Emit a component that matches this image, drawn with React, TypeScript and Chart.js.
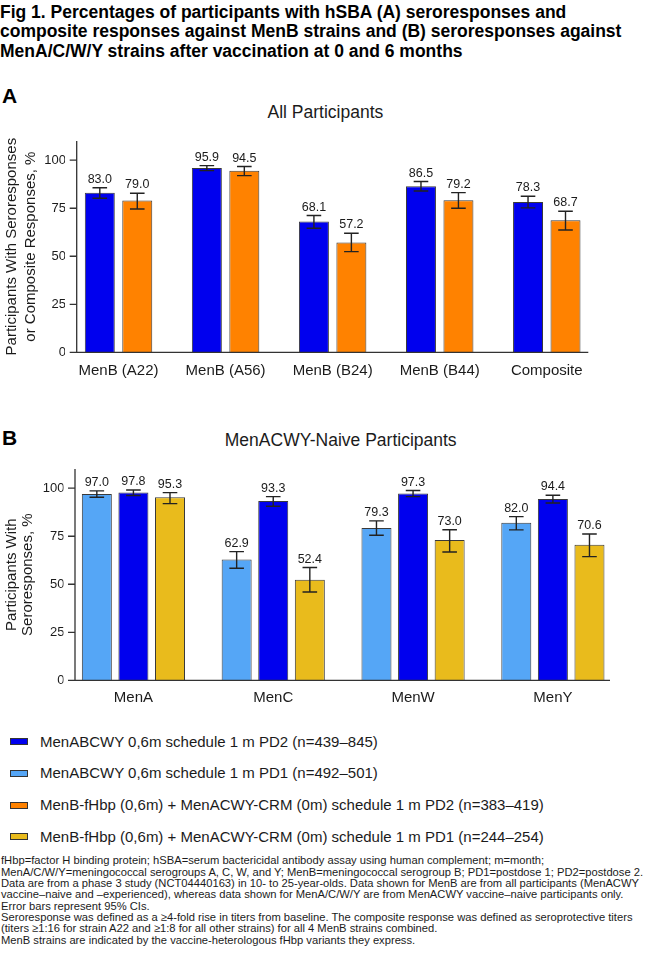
import React, { useEffect, useRef } from "react";
import { Chart, registerables } from "chart.js";

Chart.register(...registerables);

const FONT = '"Liberation Sans", Arial, Helvetica, sans-serif';
const INK = "#1b1b1b";

// ---- Panel A: MenB strains (all participants) ----
const menBCategories = ["MenB (A22)", "MenB (A56)", "MenB (B24)", "MenB (B44)", "Composite"];
const menBAbcwyPd2 = [83.0, 95.9, 68.1, 86.5, 78.3];
const menBAbcwyPd2Low = [80.2, 94.6, 64.6, 84.0, 75.2];
const menBAbcwyPd2High = [85.7, 97.2, 71.2, 88.9, 81.2];
const menBFhbpPd2 = [79.0, 94.5, 57.2, 79.2, 68.7];
const menBFhbpPd2Low = [74.6, 92.0, 52.4, 75.0, 63.7];
const menBFhbpPd2High = [82.8, 96.7, 62.0, 83.1, 73.4];

// ---- Panel B: MenA/C/W/Y strains (MenACWY-naive participants) ----
const acwyCategories = ["MenA", "MenC", "MenW", "MenY"];
const acwyAbcwyPd1 = [97.0, 62.9, 79.3, 82.0];
const acwyAbcwyPd1Low = [95.3, 58.3, 75.5, 78.3];
const acwyAbcwyPd1High = [98.6, 67.0, 83.0, 85.2];
const acwyAbcwyPd2 = [97.8, 93.3, 97.3, 94.4];
const acwyAbcwyPd2Low = [96.2, 90.6, 95.6, 92.3];
const acwyAbcwyPd2High = [99.1, 95.6, 98.8, 96.3];
const acwyCrmPd1 = [95.3, 52.4, 73.0, 70.6];
const acwyCrmPd1Low = [92.0, 46.0, 66.8, 64.4];
const acwyCrmPd1High = [97.7, 58.7, 78.4, 76.2];

const yTicks = [0, 25, 50, 75, 100];
const yMax = 110;

const COLORS = {
  abcwyPd2: "#0000ee",
  abcwyPd1: "#55a6f6",
  fhbpPd2: "#ff8200",
  crmPd1: "#e9bb1c",
};

const legendItems = [
  { color: COLORS.abcwyPd2, text: "MenABCWY 0,6m schedule 1 m PD2 (n=439–845)" },
  { color: COLORS.abcwyPd1, text: "MenABCWY 0,6m schedule 1 m PD1 (n=492–501)" },
  { color: COLORS.fhbpPd2, text: "MenB-fHbp (0,6m) + MenACWY-CRM (0m) schedule 1 m PD2 (n=383–419)" },
  { color: COLORS.crmPd1, text: "MenB-fHbp (0,6m) + MenACWY-CRM (0m) schedule 1 m PD1 (n=244–254)" },
];

const titleLines = [
  "Fig 1. Percentages of participants with hSBA (A) seroresponses and",
  "composite responses against MenB strains and (B) seroresponses against",
  "MenA/C/W/Y strains after vaccination at 0 and 6 months",
];

const footnoteLines = [
  "fHbp=factor H binding protein; hSBA=serum bactericidal antibody assay using human complement; m=month;",
  "MenA/C/W/Y=meningococcal serogroups A, C, W, and Y; MenB=meningococcal serogroup B; PD1=postdose 1; PD2=postdose 2.",
  "Data are from a phase 3 study (NCT04440163) in 10- to 25-year-olds. Data shown for MenB are from all participants (MenACWY",
  "vaccine–naive and –experienced), whereas data shown for MenA/C/W/Y are from MenACWY vaccine–naive participants only.",
  "Error bars represent 95% CIs.",
  "Seroresponse was defined as a ≥4-fold rise in titers from baseline. The composite response was defined as seroprotective titers",
  "(titers ≥1:16 for strain A22 and ≥1:8 for all other strains) for all 4 MenB strains combined.",
  "MenB strains are indicated by the vaccine-heterologous fHbp variants they express.",
];

type Series = { label: string; values: number[]; low: number[]; high: number[]; color: string };

type PanelLayout = {
  top: number;
  height: number;
  chartLeft: number;
  chartRight: number;
  chartTop: number;
  chartBottom: number;
  axisInsetLeft: number;
  axisInsetRight: number;
  xLabelPadding: number;
  categoryPercentage: number;
  barPercentage: number;
  yTitleX: number[];
};

const panelA: PanelLayout = {
  top: 120,
  height: 270,
  chartLeft: 65,
  chartRight: 600.3,
  chartTop: 141,
  chartBottom: 352.3,
  axisInsetLeft: 11.7,
  axisInsetRight: 12,
  xLabelPadding: 9.7,
  categoryPercentage: 0.7,
  barPercentage: 0.8,
  yTitleX: [12, 30.5],
};

const panelB: PanelLayout = {
  top: 450,
  height: 265,
  chartLeft: 63.5,
  chartRight: 622.8,
  chartTop: 469,
  chartBottom: 680.3,
  axisInsetLeft: 11.5,
  axisInsetRight: 12.8,
  xLabelPadding: 8.7,
  categoryPercentage: 0.785,
  barPercentage: 0.82,
  yTitleX: [11.5, 27.5],
};

function BarPanel(props: {
  categories: string[];
  series: Series[];
  yTitle: string[];
  layout: PanelLayout;
}) {
  const ref = useRef<HTMLCanvasElement | null>(null);

  useEffect(() => {
    const canvas = ref.current;
    if (!canvas) return;
    const { categories, series, yTitle, layout } = props;
    const W = 650;
    const H = layout.height;
    const relTop = layout.chartTop - layout.top;
    const relBottom = layout.chartBottom - layout.top;

    // axis lines and tick marks, inset from the plot edges
    const axisPlugin = {
      id: "insetAxes",
      afterDatasetsDraw(chart: any) {
        const { ctx, chartArea, scales } = chart;
        const y = scales.y;
        const ax = chartArea.left + layout.axisInsetLeft;
        const rx = chartArea.right - layout.axisInsetRight;
        const y0 = y.getPixelForValue(0);
        const yTop = y.getPixelForValue(yMax);
        ctx.save();
        ctx.strokeStyle = "#333";
        ctx.lineWidth = 1.3;
        ctx.beginPath();
        ctx.moveTo(ax, yTop);
        ctx.lineTo(ax, y0);
        ctx.lineTo(rx, y0);
        for (const t of yTicks) {
          const py = y.getPixelForValue(t);
          ctx.moveTo(ax - 7, py);
          ctx.lineTo(ax, py);
        }
        ctx.stroke();
        ctx.restore();
      },
    };

    // 95% CI whiskers and value labels
    const errorPlugin = {
      id: "ciBars",
      afterDatasetsDraw(chart: any) {
        const { ctx, scales } = chart;
        const y = scales.y;
        ctx.save();
        ctx.strokeStyle = "#222";
        ctx.lineWidth = 1.4;
        ctx.fillStyle = INK;
        ctx.font = `12.5px ${FONT}`;
        ctx.textAlign = "center";
        ctx.textBaseline = "alphabetic";
        series.forEach((s, i) => {
          const meta = chart.getDatasetMeta(i);
          meta.data.forEach((bar: any, j: number) => {
            const x = bar.x;
            const hi = y.getPixelForValue(s.high[j]);
            const lo = y.getPixelForValue(s.low[j]);
            const cap = 7.3;
            ctx.beginPath();
            ctx.moveTo(x, hi);
            ctx.lineTo(x, lo);
            ctx.moveTo(x - cap, hi);
            ctx.lineTo(x + cap, hi);
            ctx.moveTo(x - cap, lo);
            ctx.lineTo(x + cap, lo);
            ctx.stroke();
            ctx.fillText(s.values[j].toFixed(1), x, hi - 5);
          });
        });
        ctx.restore();
      },
    };

    // two-line rotated y-axis title
    const yTitlePlugin = {
      id: "yTitle",
      afterDraw(chart: any) {
        const { ctx, chartArea } = chart;
        const cy = (chartArea.top + chartArea.bottom) / 2;
        ctx.save();
        ctx.fillStyle = INK;
        ctx.font = `15px ${FONT}`;
        ctx.textAlign = "center";
        ctx.textBaseline = "middle";
        yTitle.forEach((line, k) => {
          ctx.save();
          ctx.translate(layout.yTitleX[k], cy);
          ctx.rotate(-Math.PI / 2);
          ctx.fillText(line, 0, 0);
          ctx.restore();
        });
        ctx.restore();
      },
    };

    const chart = new Chart(canvas, {
      type: "bar",
      data: {
        labels: categories,
        datasets: series.map((s) => ({
          label: s.label,
          data: s.values,
          backgroundColor: s.color,
          borderColor: "#3a3a3a",
          borderWidth: 1,
          categoryPercentage: layout.categoryPercentage,
          barPercentage: layout.barPercentage,
        })),
      },
      options: {
        animation: false,
        responsive: false,
        maintainAspectRatio: false,
        devicePixelRatio: 1,
        layout: {
          padding: { top: relTop, right: W - layout.chartRight, bottom: 0, left: 0 },
        },
        plugins: {
          legend: { display: false },
          tooltip: { enabled: false },
          title: { display: false },
        },
        scales: {
          x: {
            grid: { display: false, drawTicks: false },
            border: { display: false },
            ticks: {
              color: INK,
              font: { family: FONT, size: 15 },
              padding: layout.xLabelPadding,
              maxRotation: 0,
              autoSkip: false,
            },
            afterFit: (s: any) => {
              s.height = H - relBottom;
            },
          },
          y: {
            min: 0,
            max: yMax,
            grid: { display: false, drawTicks: false },
            border: { display: false },
            ticks: {
              stepSize: 25,
              includeBounds: false,
              color: INK,
              font: { family: FONT, size: 13 },
              padding: -1,
            },
            afterFit: (s: any) => {
              s.width = layout.chartLeft;
            },
          },
        },
      } as any,
      plugins: [axisPlugin, errorPlugin, yTitlePlugin],
    });
    return () => chart.destroy();
  }, []);

  return (
    <canvas
      ref={ref}
      width={650}
      height={props.layout.height}
      style={{ position: "absolute", left: 0, top: props.layout.top, width: 650, height: props.layout.height }}
    />
  );
}

export default function App() {
  const seriesA: Series[] = [
    { label: "MenABCWY PD2", values: menBAbcwyPd2, low: menBAbcwyPd2Low, high: menBAbcwyPd2High, color: COLORS.abcwyPd2 },
    { label: "MenB-fHbp + MenACWY-CRM PD2", values: menBFhbpPd2, low: menBFhbpPd2Low, high: menBFhbpPd2High, color: COLORS.fhbpPd2 },
  ];
  const seriesB: Series[] = [
    { label: "MenABCWY PD1", values: acwyAbcwyPd1, low: acwyAbcwyPd1Low, high: acwyAbcwyPd1High, color: COLORS.abcwyPd1 },
    { label: "MenABCWY PD2", values: acwyAbcwyPd2, low: acwyAbcwyPd2Low, high: acwyAbcwyPd2High, color: COLORS.abcwyPd2 },
    { label: "MenB-fHbp + MenACWY-CRM PD1", values: acwyCrmPd1, low: acwyCrmPd1Low, high: acwyCrmPd1High, color: COLORS.crmPd1 },
  ];

  const text = (style: React.CSSProperties, children: React.ReactNode) => (
    <div style={{ position: "absolute", whiteSpace: "nowrap", color: INK, ...style }}>{children}</div>
  );

  return (
    <div
      style={{
        position: "absolute",
        left: 0,
        top: 0,
        width: 650,
        height: 963,
        background: "#fff",
        fontFamily: FONT,
        overflow: "hidden",
      }}
    >
      {text(
        { left: 0, top: 2.5, fontSize: 17.5, fontWeight: "bold", lineHeight: "19.7px", color: "#000" },
        titleLines.map((l) => <div key={l}>{l}</div>)
      )}

      {text({ left: 2, top: 84, fontSize: 21, fontWeight: "bold", lineHeight: "24px", color: "#000" }, "A")}
      {text({ left: 0, width: 650, top: 101.7, fontSize: 17.5, lineHeight: "20px", textAlign: "center", marginLeft: 0.4 }, "All Participants")}
      <BarPanel
        categories={menBCategories}
        series={seriesA}
        yTitle={["Participants With Seroresponses", "or Composite Responses, %"]}
        layout={panelA}
      />

      {text({ left: 2, top: 426, fontSize: 21, fontWeight: "bold", lineHeight: "24px", color: "#000" }, "B")}
      {text({ left: 0, width: 650, top: 430, fontSize: 17.5, lineHeight: "20px", textAlign: "center", marginLeft: 15.7 }, "MenACWY-Naive Participants")}
      <BarPanel
        categories={acwyCategories}
        series={seriesB}
        yTitle={["Participants With", "Seroresponses, %"]}
        layout={panelB}
      />

      {legendItems.map((item, i) => {
        const cy = 741.7 + i * 31.7;
        return (
          <React.Fragment key={item.text}>
            <div
              style={{
                position: "absolute",
                left: 10,
                top: cy - 3.5,
                width: 18,
                height: 7,
                boxSizing: "border-box",
                border: "1px solid #333",
                background: item.color,
              }}
            />
            {text({ left: 40, top: cy - 9, fontSize: 15, lineHeight: "18px" }, item.text)}
          </React.Fragment>
        );
      })}

      {text(
        { left: 1, top: 855.3, fontSize: 11.2, lineHeight: "11.33px" },
        footnoteLines.map((l) => <div key={l}>{l}</div>)
      )}
    </div>
  );
}
